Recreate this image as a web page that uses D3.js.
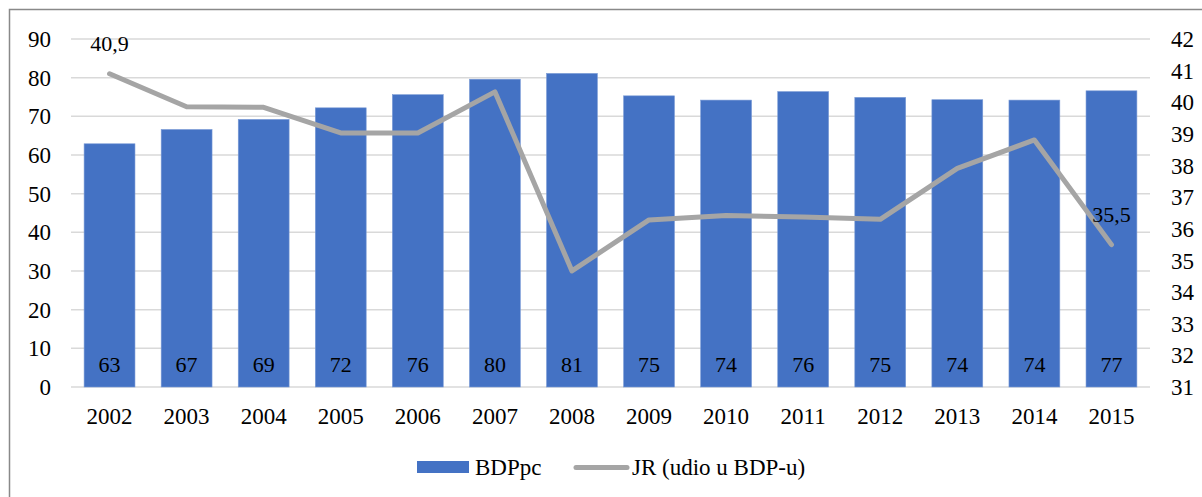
<!DOCTYPE html>
<html>
<head>
<meta charset="utf-8">
<script src="https://cdn.jsdelivr.net/npm/d3@7"></script>
<style>
  html, body { margin: 0; padding: 0; background: #fff; }
  svg { display: block; }
  text { font-family: "Liberation Serif", "Times New Roman", serif; fill: #000; }
</style>
</head>
<body>
<svg id="chart" width="1202" height="497"></svg>
<script>
var years = ["2002","2003","2004","2005","2006","2007","2008","2009","2010","2011","2012","2013","2014","2015"];
var bdppc = [62.9, 66.6, 69.2, 72.2, 75.6, 79.6, 81.1, 75.3, 74.2, 76.4, 74.9, 74.3, 74.2, 76.6];
var jr = [40.9, 39.86, 39.84, 39.03, 39.03, 40.33, 34.67, 36.28, 36.42, 36.37, 36.3, 37.91, 38.81, 35.5];
var leftTicks = [0, 10, 20, 30, 40, 50, 60, 70, 80, 90];
var rightTicks = [31, 32, 33, 34, 35, 36, 37, 38, 39, 40, 41, 42];
var seriesNames = ["BDPpc", "JR (udio u BDP-u)"];

var svg = d3.select("#chart");
var plotLeft = 71, plotRight = 1150, plotTop = 39, plotBottom = 387;

// outer frame, runs past the right and bottom edges
svg.append("rect")
  .attr("x", 9.5).attr("y", 9.5)
  .attr("width", 1220).attr("height", 520)
  .style("fill", "none").style("stroke", "#898989").style("stroke-width", 1.5);

var x = d3.scaleBand().domain(years).range([plotLeft, plotRight]).paddingInner(0.34).paddingOuter(0.17);
var y = d3.scaleLinear().domain([0, 90]).range([plotBottom, plotTop]);
var y2 = d3.scaleLinear().domain([31, 42]).range([plotBottom, plotTop]);

// gridlines
svg.append("g").selectAll("line")
  .data(leftTicks)
  .enter().append("line")
  .attr("x1", plotLeft).attr("x2", plotRight)
  .attr("y1", function(d){ return y(d); })
  .attr("y2", function(d){ return y(d); })
  .style("stroke", "#d9d9d9").style("stroke-width", 1.5);

// bars
svg.append("g").selectAll("rect")
  .data(bdppc)
  .enter().append("rect")
  .attr("x", function(d, i){ return x(years[i]); })
  .attr("width", x.bandwidth())
  .attr("y", function(d){ return y(d); })
  .attr("height", function(d){ return y(0) - y(d); })
  .style("fill", "#4472c4")
  .style("stroke", "#7a9bd6").style("stroke-width", 0.6);

// bar labels at base
svg.append("g").selectAll("text")
  .data(bdppc)
  .enter().append("text")
  .attr("x", function(d, i){ return x(years[i]) + x.bandwidth() / 2; })
  .attr("y", y(0) - 15)
  .attr("text-anchor", "middle")
  .style("font-size", "22px")
  .text(function(d){ return d3.format(".0f")(d); });

// line
var line = d3.line()
  .x(function(d, i){ return x(years[i]) + x.bandwidth() / 2; })
  .y(function(d){ return y2(d); });
svg.append("path")
  .datum(jr)
  .attr("d", line)
  .style("fill", "none")
  .style("stroke", "#a5a5a5")
  .style("stroke-width", 5)
  .style("stroke-linejoin", "round")
  .style("stroke-linecap", "round");

// line labels, first and last only
[0, jr.length - 1].forEach(function(i){
  svg.append("text")
    .attr("x", x(years[i]) + x.bandwidth() / 2)
    .attr("y", y2(jr[i]) - 23)
    .attr("text-anchor", "middle")
    .style("font-size", "22px")
    .text(d3.format(".1f")(jr[i]).replace(".", ","));
});

// left axis
svg.append("g").selectAll("text")
  .data(leftTicks)
  .enter().append("text")
  .attr("x", 51)
  .attr("y", function(d){ return y(d); })
  .attr("dy", "0.35em")
  .attr("text-anchor", "end")
  .style("font-size", "23px")
  .text(function(d){ return d; });

// right axis
svg.append("g").selectAll("text")
  .data(rightTicks)
  .enter().append("text")
  .attr("x", 1171)
  .attr("y", function(d){ return y2(d); })
  .attr("dy", "0.35em")
  .attr("text-anchor", "start")
  .style("font-size", "23px")
  .text(function(d){ return d; });

// x axis labels
svg.append("g").selectAll("text")
  .data(years)
  .enter().append("text")
  .attr("x", function(d){ return x(d) + x.bandwidth() / 2; })
  .attr("y", 424)
  .attr("text-anchor", "middle")
  .style("font-size", "23px")
  .text(function(d){ return d; });

// legend
var legend = svg.append("g");
legend.append("rect")
  .attr("x", 417).attr("y", 461).attr("width", 52).attr("height", 12)
  .style("fill", "#4472c4");
legend.append("text")
  .attr("x", 475).attr("y", 467).attr("dy", "0.35em")
  .style("font-size", "23px").text(seriesNames[0]);
legend.append("line")
  .attr("x1", 576).attr("x2", 627).attr("y1", 467.5).attr("y2", 467.5)
  .style("stroke", "#a5a5a5").style("stroke-width", 5).style("stroke-linecap", "round");
legend.append("text")
  .attr("x", 632).attr("y", 467).attr("dy", "0.35em")
  .style("font-size", "23px").text(seriesNames[1]);
</script>
</body>
</html>
